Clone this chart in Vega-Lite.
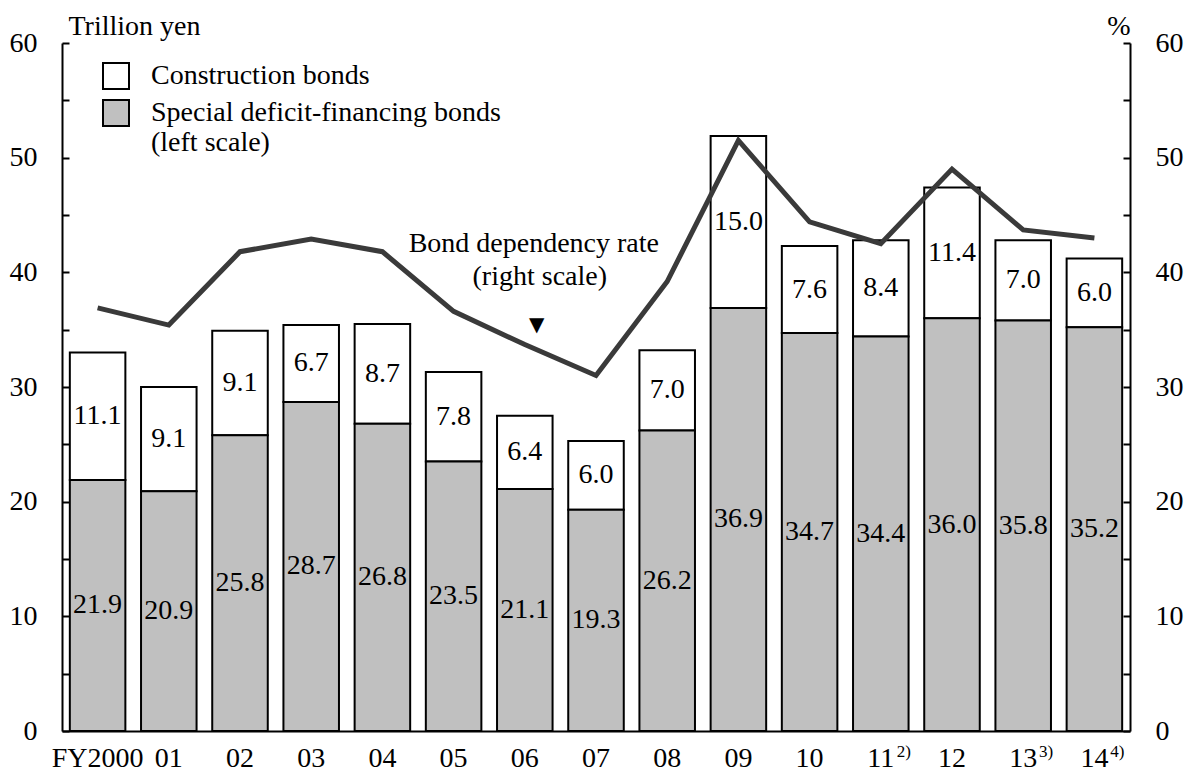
{
  "$schema": "https://vega.github.io/schema/vega-lite/v6.json",
  "width": 1068,
  "height": 688,
  "autosize": {"type": "none"},
  "padding": {"left": 62, "top": 43, "right": 55, "bottom": 42},
  "background": "white",
  "config": {"font": "Liberation Serif", "view": {"stroke": null}},
  "datasets": {
    "bonds": [
      {"year": "FY2000", "type": "Construction bonds", "value": 11.1},
      {"year": "FY2000", "type": "Special deficit-financing bonds", "value": 21.9},
      {"year": "01", "type": "Construction bonds", "value": 9.1},
      {"year": "01", "type": "Special deficit-financing bonds", "value": 20.9},
      {"year": "02", "type": "Construction bonds", "value": 9.1},
      {"year": "02", "type": "Special deficit-financing bonds", "value": 25.8},
      {"year": "03", "type": "Construction bonds", "value": 6.7},
      {"year": "03", "type": "Special deficit-financing bonds", "value": 28.7},
      {"year": "04", "type": "Construction bonds", "value": 8.7},
      {"year": "04", "type": "Special deficit-financing bonds", "value": 26.8},
      {"year": "05", "type": "Construction bonds", "value": 7.8},
      {"year": "05", "type": "Special deficit-financing bonds", "value": 23.5},
      {"year": "06", "type": "Construction bonds", "value": 6.4},
      {"year": "06", "type": "Special deficit-financing bonds", "value": 21.1},
      {"year": "07", "type": "Construction bonds", "value": 6.0},
      {"year": "07", "type": "Special deficit-financing bonds", "value": 19.3},
      {"year": "08", "type": "Construction bonds", "value": 7.0},
      {"year": "08", "type": "Special deficit-financing bonds", "value": 26.2},
      {"year": "09", "type": "Construction bonds", "value": 15.0},
      {"year": "09", "type": "Special deficit-financing bonds", "value": 36.9},
      {"year": "10", "type": "Construction bonds", "value": 7.6},
      {"year": "10", "type": "Special deficit-financing bonds", "value": 34.7},
      {"year": "11", "type": "Construction bonds", "value": 8.4},
      {"year": "11", "type": "Special deficit-financing bonds", "value": 34.4},
      {"year": "12", "type": "Construction bonds", "value": 11.4},
      {"year": "12", "type": "Special deficit-financing bonds", "value": 36.0},
      {"year": "13", "type": "Construction bonds", "value": 7.0},
      {"year": "13", "type": "Special deficit-financing bonds", "value": 35.8},
      {"year": "14", "type": "Construction bonds", "value": 6.0},
      {"year": "14", "type": "Special deficit-financing bonds", "value": 35.2}
    ],
    "rate": [
      {"year": "FY2000", "rate": 36.9},
      {"year": "01", "rate": 35.4},
      {"year": "02", "rate": 41.8},
      {"year": "03", "rate": 42.9},
      {"year": "04", "rate": 41.8},
      {"year": "05", "rate": 36.6},
      {"year": "06", "rate": 33.7},
      {"year": "07", "rate": 31.0},
      {"year": "08", "rate": 39.2},
      {"year": "09", "rate": 51.5},
      {"year": "10", "rate": 44.4},
      {"year": "11", "rate": 42.5},
      {"year": "12", "rate": 49.0},
      {"year": "13", "rate": 43.7},
      {"year": "14", "rate": 43.0}
    ],
    "notes": [
      {"year": "11", "note": "2)"},
      {"year": "13", "note": "3)"},
      {"year": "14", "note": "4)"}
    ]
  },
  "resolve": {"axis": {"y": "independent"}},
  "layer": [
    {
      "data": {"name": "bonds"},
      "mark": {"type": "bar", "stroke": "black", "strokeWidth": 2},
      "encoding": {
        "x": {
          "field": "year", "type": "nominal",
          "scale": {"domain": ["FY2000","01","02","03","04","05","06","07","08","09","10","11","12","13","14"], "paddingInner": 0.22, "paddingOuter": 0.11},
          "axis": {"title": null, "ticks": false, "domainColor": "black", "domainWidth": 2, "labelAngle": 0, "labelFontSize": 28, "labelColor": "black", "labelPadding": 13, "labelFont": "Liberation Serif"}
        },
        "y": {
          "field": "value", "type": "quantitative", "stack": "zero",
          "scale": {"domain": [0, 60], "nice": false},
          "axis": {
            "orient": "left", "values": [0,5,10,15,20,25,30,35,40,45,50,55,60],
            "labelExpr": "datum.value % 10 === 0 ? datum.label : ''",
            "grid": false, "tickSize": -7, "tickWidth": 2, "tickColor": "black",
            "domainColor": "black", "domainWidth": 2,
            "labelFontSize": 28, "labelColor": "black", "labelPadding": 32, "labelOverlap": false, "labelFlush": false, "labelFont": "Liberation Serif",
            "title": "Trillion yen", "titleAngle": 0, "titleAlign": "left", "titleBaseline": "alphabetic",
            "titleX": 6, "titleY": -9, "titleFontSize": 28, "titleFontWeight": "normal", "titleColor": "black", "titleFont": "Liberation Serif"
          }
        },
        "fill": {
          "field": "type", "type": "nominal",
          "scale": {"domain": ["Construction bonds", "Special deficit-financing bonds"], "range": ["#ffffff", "#c0c0c0"]},
          "legend": {
            "orient": "none", "legendX": 40, "legendY": 19, "title": null,
            "symbolType": "square", "symbolSize": 676, "symbolStrokeColor": "black", "symbolStrokeWidth": 2,
            "labelFontSize": 28, "labelColor": "black", "labelFont": "Liberation Serif", "labelOffset": 21, "labelLimit": 600,
            "rowPadding": 3, "padding": 0,
            "labelExpr": "datum.label === 'Special deficit-financing bonds' ? ['Special deficit-financing bonds', '(left scale)'] : datum.label"
          }
        },
        "order": {"field": "type", "sort": "descending"}
      }
    },
    {
      "data": {"name": "bonds"},
      "mark": {"type": "text", "fontSize": 28, "color": "black", "baseline": "middle"},
      "encoding": {
        "x": {"field": "year", "type": "nominal", "scale": {"domain": ["FY2000","01","02","03","04","05","06","07","08","09","10","11","12","13","14"], "paddingInner": 0.22, "paddingOuter": 0.11}},
        "y": {"field": "value", "type": "quantitative", "stack": "zero", "bandPosition": 0.5, "scale": {"domain": [0, 60], "nice": false}, "axis": null},
        "detail": {"field": "type"},
        "order": {"field": "type", "sort": "descending"},
        "text": {"field": "value", "type": "quantitative", "format": ".1f"}
      }
    },
    {
      "data": {"name": "rate"},
      "mark": {"type": "line", "stroke": "#3a3a3a", "strokeWidth": 5, "strokeJoin": "miter"},
      "encoding": {
        "x": {"field": "year", "type": "nominal", "scale": {"domain": ["FY2000","01","02","03","04","05","06","07","08","09","10","11","12","13","14"], "paddingInner": 0.22, "paddingOuter": 0.11}},
        "y": {
          "field": "rate", "type": "quantitative",
          "scale": {"domain": [0, 60], "nice": false},
          "axis": {
            "orient": "right", "values": [0,5,10,15,20,25,30,35,40,45,50,55,60],
            "labelExpr": "datum.value % 10 === 0 ? datum.label : ''",
            "grid": false, "tickSize": -7, "tickWidth": 2, "tickColor": "black",
            "domainColor": "black", "domainWidth": 2,
            "labelFontSize": 28, "labelColor": "black", "labelPadding": 32, "labelOverlap": false, "labelFlush": false, "labelFont": "Liberation Serif",
            "title": "%", "titleAngle": 0, "titleAlign": "right", "titleBaseline": "alphabetic",
            "titleX": 0, "titleY": -9, "titleFontSize": 28, "titleFontWeight": "normal", "titleColor": "black", "titleFont": "Liberation Serif"
          }
        }
      }
    },
    {
      "data": {"values": [{}]},
      "mark": {"type": "text", "fontSize": 28, "color": "black", "baseline": "middle", "dx": 9, "text": "Bond dependency rate"},
      "encoding": {
        "x": {"datum": "06", "type": "nominal", "scale": {"domain": ["FY2000","01","02","03","04","05","06","07","08","09","10","11","12","13","14"], "paddingInner": 0.22, "paddingOuter": 0.11}},
        "y": {"datum": 42.5, "type": "quantitative", "scale": {"domain": [0, 60], "nice": false}, "axis": null}
      }
    },
    {
      "data": {"values": [{}]},
      "mark": {"type": "text", "fontSize": 28, "color": "black", "baseline": "middle", "dx": 15, "text": "(right scale)"},
      "encoding": {
        "x": {"datum": "06", "type": "nominal", "scale": {"domain": ["FY2000","01","02","03","04","05","06","07","08","09","10","11","12","13","14"], "paddingInner": 0.22, "paddingOuter": 0.11}},
        "y": {"datum": 39.6, "type": "quantitative", "scale": {"domain": [0, 60], "nice": false}, "axis": null}
      }
    },
    {
      "data": {"values": [{}]},
      "mark": {"type": "text", "fontSize": 20, "font": "DejaVu Sans", "color": "black", "baseline": "middle", "dx": 12, "text": "▼"},
      "encoding": {
        "x": {"datum": "06", "type": "nominal", "scale": {"domain": ["FY2000","01","02","03","04","05","06","07","08","09","10","11","12","13","14"], "paddingInner": 0.22, "paddingOuter": 0.11}},
        "y": {"datum": 35.4, "type": "quantitative", "scale": {"domain": [0, 60], "nice": false}, "axis": null}
      }
    },
    {
      "data": {"name": "notes"},
      "mark": {"type": "text", "fontSize": 17, "color": "black", "baseline": "middle", "dx": 23},
      "encoding": {
        "x": {"field": "year", "type": "nominal", "scale": {"domain": ["FY2000","01","02","03","04","05","06","07","08","09","10","11","12","13","14"], "paddingInner": 0.22, "paddingOuter": 0.11}},
        "y": {"datum": -1.8, "type": "quantitative", "scale": {"domain": [0, 60], "nice": false}, "axis": null},
        "text": {"field": "note"}
      }
    }
  ]
}
